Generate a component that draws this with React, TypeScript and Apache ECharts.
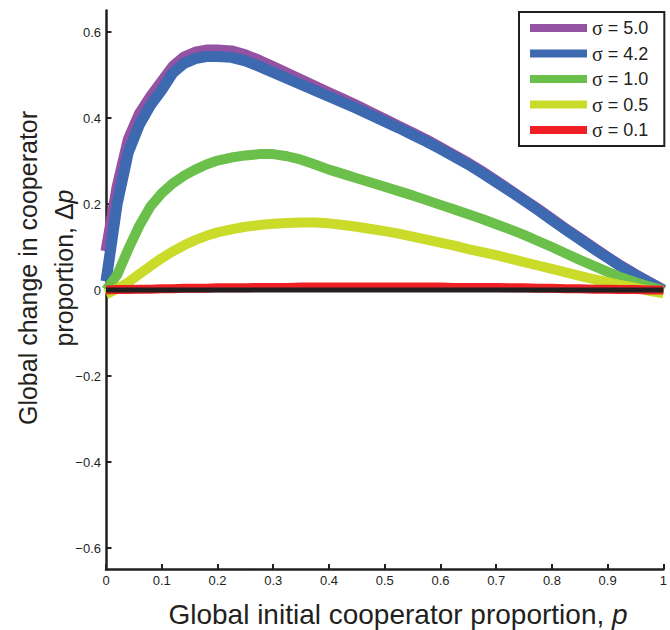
import React, { useEffect, useRef } from "react";
import * as echarts from "echarts";

const P_LOW = [0, 0.02, 0.04, 0.06, 0.08, 0.1, 0.12, 0.14, 0.16, 0.18];
const P_HIGH = [0.2, 0.225, 0.25, 0.275, 0.3, 0.325, 0.35, 0.375, 0.4, 0.425, 0.45, 0.475, 0.5, 0.525, 0.55, 0.575, 0.6, 0.625, 0.65, 0.675, 0.7, 0.725, 0.75, 0.775, 0.8, 0.825, 0.85, 0.875, 0.9, 0.925, 0.95, 0.975, 1];
const P = [...P_LOW, ...P_HIGH];

const SIGMA50 = [0.09, 0.24, 0.35, 0.41, 0.45, 0.485, 0.52, 0.542, 0.553, 0.558,
  0.558, 0.556, 0.547, 0.534, 0.519, 0.504, 0.489, 0.474, 0.459, 0.444, 0.429, 0.413, 0.397, 0.381, 0.365, 0.349, 0.331, 0.313, 0.295, 0.275, 0.254, 0.232, 0.21, 0.188, 0.165, 0.142, 0.12, 0.098, 0.076, 0.055, 0.036, 0.018, 0];
const SIGMA42 = [0.02, 0.2, 0.32, 0.385, 0.43, 0.465, 0.505, 0.527, 0.538, 0.543,
  0.543, 0.541, 0.533, 0.52, 0.506, 0.492, 0.478, 0.464, 0.45, 0.436, 0.422, 0.407, 0.392, 0.377, 0.361, 0.345, 0.328, 0.31, 0.292, 0.272, 0.251, 0.23, 0.208, 0.186, 0.163, 0.14, 0.118, 0.096, 0.075, 0.054, 0.035, 0.017, 0];
const SIGMA10 = [0, 0.035, 0.095, 0.15, 0.195, 0.225, 0.248, 0.266, 0.28, 0.292,
  0.301, 0.308, 0.313, 0.316, 0.316, 0.311, 0.303, 0.292, 0.28, 0.27, 0.26, 0.25, 0.24, 0.23, 0.22, 0.209, 0.198, 0.187, 0.176, 0.165, 0.153, 0.141, 0.128, 0.114, 0.1, 0.085, 0.07, 0.056, 0.042, 0.029, 0.018, 0.008, 0];
const SIGMA05 = [-0.01, 0.003, 0.018, 0.037, 0.056, 0.074, 0.09, 0.104, 0.116, 0.126,
  0.134, 0.141, 0.147, 0.151, 0.154, 0.156, 0.157, 0.157, 0.155, 0.151, 0.147, 0.142, 0.137, 0.131, 0.124, 0.117, 0.11, 0.103, 0.095, 0.088, 0.081, 0.073, 0.065, 0.057, 0.049, 0.041, 0.033, 0.025, 0.018, 0.011, 0.005, -0.002, -0.008];
const SIGMA01 = [0, 0.001, 0.001, 0.002, 0.002, 0.003, 0.003, 0.004, 0.004, 0.004,
  0.005, 0.005, 0.005, 0.006, 0.006, 0.006, 0.007, 0.007, 0.007, 0.007, 0.007, 0.007, 0.007, 0.007, 0.007, 0.007, 0.007, 0.006, 0.006, 0.006, 0.006, 0.005, 0.005, 0.004, 0.004, 0.003, 0.003, 0.002, 0.002, 0.001, 0.001, 0, 0];
const ZERO_X = [0, 1];
const ZERO_Y = [0, 0];

const SERIES_NAMES = ["σ = 5.0", "σ = 4.2", "σ = 1.0", "σ = 0.5", "σ = 0.1"];
const SERIES_VALUES = [SIGMA50, SIGMA42, SIGMA10, SIGMA05, SIGMA01];
const SERIES_COLORS = ["#9452a2", "#3d69b1", "#6bbf4b", "#cadb2a", "#ee2024"];
const SERIES_WIDTHS = [11, 11, 10, 10, 9];

const Y_TICKS = [-0.6, -0.4, -0.2, 0, 0.2, 0.4, 0.6];

const X_TITLE = "Global initial cooperator proportion, {i|p}";
const Y_TITLE_1 = "Global change in cooperator";
const Y_TITLE_2 = "proportion, Δ{i|p}";

const INK = "#231f20";
const FONT = "'Liberation Sans', Arial, Helvetica, sans-serif";

export default function App() {
  const ref = useRef<HTMLDivElement>(null);
  useEffect(() => {
    if (!ref.current) return;
    const chart = echarts.init(ref.current, undefined, { renderer: "svg" });
    const fmt = (v: number) => {
      if (Math.abs(v) < 1e-9) return "0";
      if (Math.abs(v - 1) < 1e-9) return "1";
      const s = Math.abs(v).toFixed(1);
      return v < 0 ? "−" + s : s;
    };
    const series: any[] = SERIES_NAMES.map((name, i) => ({
      name,
      type: "line",
      data: P.map((p, j) => [p, SERIES_VALUES[i][j]]),
      showSymbol: false,
      symbol: "none",
      lineStyle: { color: SERIES_COLORS[i], width: SERIES_WIDTHS[i], join: "round" },
      itemStyle: { color: SERIES_COLORS[i] },
      z: 2 + i,
    }));
    series.push({
      name: "zero",
      type: "line",
      data: ZERO_X.map((x, j) => [x, ZERO_Y[j]]),
      showSymbol: false,
      symbol: "none",
      lineStyle: { color: INK, width: 5 },
      z: 10,
    });
    chart.setOption({
      animation: false,
      backgroundColor: "#ffffff",
      grid: { left: 106, right: 2, top: 10.5, bottom: 60.5, containLabel: false },
      legend: {
        data: SERIES_NAMES,
        orient: "vertical",
        left: 519,
        top: 12,
        padding: [6, 16, 6, 11],
        borderColor: INK,
        borderWidth: 2,
        backgroundColor: "#ffffff",
        icon: "rect",
        itemWidth: 57,
        itemHeight: 8,
        itemGap: 5.5,
        formatter: (name: string) => "{s|σ}{t|" + name.slice(1) + "}",
        textStyle: {
          color: INK,
          fontFamily: FONT,
          fontSize: 18,
          lineHeight: 18,
          rich: {
            s: { fontFamily: "'Liberation Serif', 'DejaVu Serif', serif", fontSize: 20, lineHeight: 18, color: INK },
            t: { fontFamily: FONT, fontSize: 18, lineHeight: 18, color: INK },
          },
        },
      },
      xAxis: {
        type: "value",
        min: 0,
        max: 1,
        interval: 0.1,
        axisLine: { onZero: false, lineStyle: { color: INK, width: 2.5 } },
        axisTick: { inside: true, length: 5.5, lineStyle: { color: INK, width: 2 } },
        axisLabel: { color: INK, fontFamily: FONT, fontSize: 13, margin: 4, formatter: fmt },
        splitLine: { show: false },
      },
      yAxis: {
        type: "value",
        min: -0.65,
        max: 0.65,
        axisLine: { show: true, onZero: false, lineStyle: { color: INK, width: 2.5 } },
        axisTick: { show: true, inside: true, length: 5.5, customValues: Y_TICKS, lineStyle: { color: INK, width: 2 } },
        axisLabel: { color: INK, fontFamily: FONT, fontSize: 13, margin: 5, customValues: Y_TICKS, formatter: fmt },
        splitLine: { show: false },
      },
      graphic: [
        {
          type: "text",
          x: 398,
          y: 614,
          style: {
            text: X_TITLE,
            fill: INK,
            fontFamily: FONT,
            fontSize: 28,
            align: "center",
            verticalAlign: "middle",
            rich: { i: { fontStyle: "italic", fontFamily: FONT, fontSize: 28, fill: INK } },
          },
        },
        {
          type: "text",
          x: 28,
          y: 268,
          rotation: Math.PI / 2,
          style: {
            text: Y_TITLE_1,
            fill: INK,
            fontFamily: FONT,
            fontSize: 25,
            align: "center",
            verticalAlign: "middle",
          },
        },
        {
          type: "text",
          x: 64,
          y: 268,
          rotation: Math.PI / 2,
          style: {
            text: Y_TITLE_2,
            fill: INK,
            fontFamily: FONT,
            fontSize: 25,
            align: "center",
            verticalAlign: "middle",
            rich: { i: { fontStyle: "italic", fontFamily: FONT, fontSize: 25, fill: INK } },
          },
        },
      ],
      series,
    });
    return () => chart.dispose();
  }, []);
  return (
    <div
      ref={ref}
      style={{ position: "fixed", left: 0, top: 0, width: 670, height: 630, background: "#fff" }}
    />
  );
}
